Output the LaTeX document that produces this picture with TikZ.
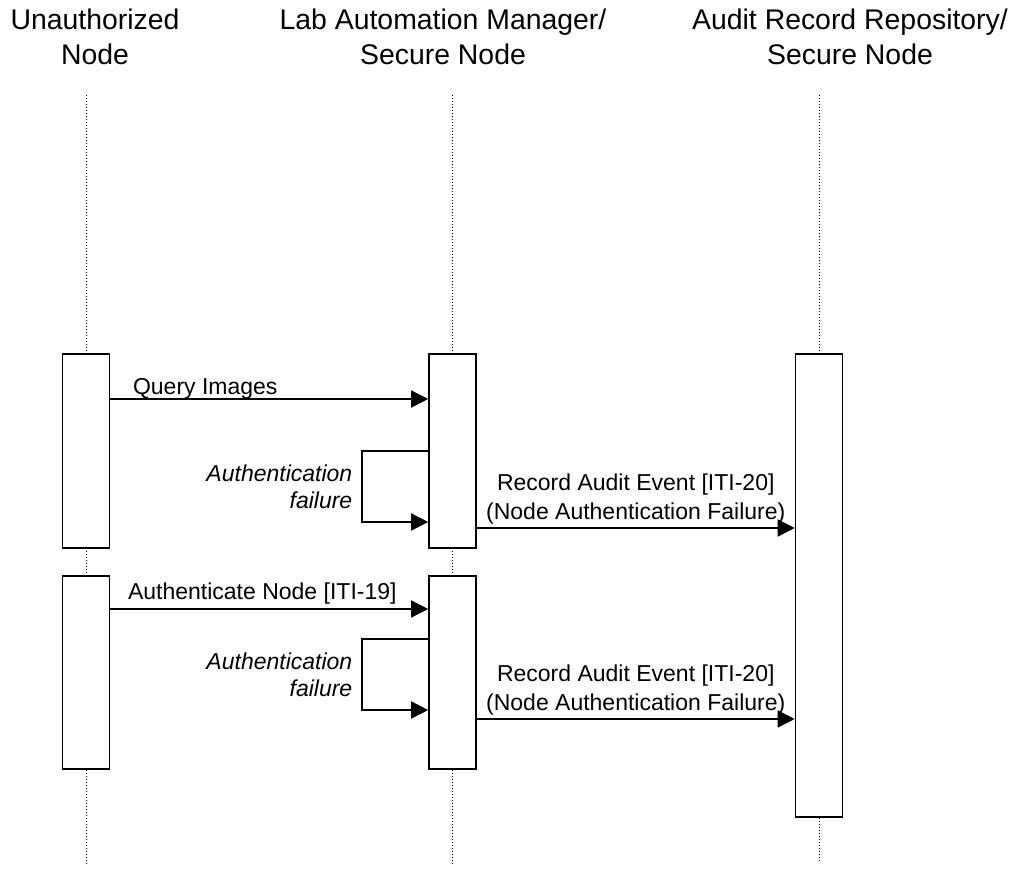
\documentclass[tikz,border=0pt]{standalone}
\usepackage{fontspec}
\setmainfont{Liberation Sans}
\usetikzlibrary{arrows.meta}

\tikzset{
	actor/.style={align=center, anchor=north, inner sep=0pt, font=\fontsize{14.2}{17.5}\selectfont},
	life/.style={densely dotted, line width=0.5pt},
	act/.style={draw, fill=white, line width=0.8pt, minimum width=23.5pt, inner sep=0pt},
	msg/.style={-{Triangle[length=8.5pt,width=8.5pt]}, line width=0.75pt},
	lbl/.style={font=\fontsize{11.5}{14.5}\selectfont},
	failtxt/.style={align=right, left, inner xsep=4.5pt, font=\fontsize{11.5}{13.5}\selectfont\itshape}
}

\begin{document}
\begin{tikzpicture}[x=0.5pt, y=-0.5pt]
			\useasboundingbox (0,0) rectangle (1016,871);
			\node at (95,9) [actor] (unauth) {Unauthorized\\Node};
			\node at (443,9) [actor] (lam) {Lab Automation Manager/\\Secure Node};
			\node at (850,9) [actor] (arr) {Audit Record Repository/\\Secure Node};
			\coordinate (unauthTop) at (86,95);
			\coordinate (unauthBot) at (86,866);
			\coordinate (lamTop) at (452.5,95);
			\coordinate (lamBot) at (452.5,866);
			\coordinate (arrTop) at (819,95);
			\coordinate (arrBot) at (819,863);
			\draw [life] (unauthTop) -- (unauthBot);
			\draw [life] (lamTop) -- (lamBot);
			\draw [life] (arrTop) -- (arrBot);
			\node at (86,451) [act, minimum height=97pt] (unauth1) {};
			\node at (86,672.5) [act, minimum height=96.5pt] (unauth2) {};
			\node at (452.5,451) [act, minimum height=97pt] (lam1) {};
			\node at (452.5,672.5) [act, minimum height=96.5pt] (lam2) {};
			\node at (819,585.5) [act, minimum height=231.5pt] (arr1) {};
			\coordinate (query) at (0,399);
			\coordinate (fail1) at (362,451);
			\coordinate (fail1end) at (362,522);
			\coordinate (rec1) at (0,528);
			\coordinate (authn) at (0,609);
			\coordinate (fail2) at (362,639);
			\coordinate (fail2end) at (362,710);
			\coordinate (rec2) at (0,719);
			\draw [msg] (unauth1.east |- query) -- (lam1.west |- query);
			\node at (126,394) [lbl, anchor=base west] (queryLbl) {Query Images};
			\draw [msg] (lam1.west |- fail1) -- (fail1) -- node [failtxt] (fail1Lbl) {Authentication\\failure} (fail1end) -- (lam1.west |- fail1end);
			\draw [msg] (lam1.east |- rec1) -- node [lbl, above, align=center, inner sep=1.5pt] (rec1Lbl) {Record Audit Event [ITI-20]\\(Node Authentication Failure)} (arr1.west |- rec1);
			\draw [msg] (unauth2.east |- authn) -- (lam2.west |- authn);
			\node at (121,599) [lbl, anchor=base west] (authnLbl) {Authenticate Node [ITI-19]};
			\draw [msg] (lam2.west |- fail2) -- (fail2) -- node [failtxt] (fail2Lbl) {Authentication\\failure} (fail2end) -- (lam2.west |- fail2end);
			\draw [msg] (lam2.east |- rec2) -- node [lbl, above, align=center, inner sep=1.5pt] (rec2Lbl) {Record Audit Event [ITI-20]\\(Node Authentication Failure)} (arr1.west |- rec2);
		\end{tikzpicture}
\end{document}
